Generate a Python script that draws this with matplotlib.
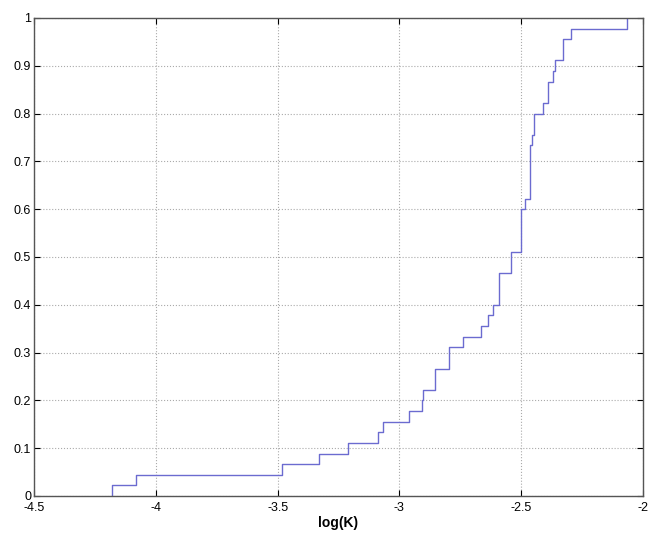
import numpy as np
import matplotlib
matplotlib.use("Agg")
import matplotlib.pyplot as plt

step_x = [-4.18, -4.083, -3.483, -3.33, -3.21, -3.087, -3.066, -2.961, -2.907,
          -2.902, -2.854, -2.796, -2.738, -2.665, -2.635, -2.615, -2.591, -2.543,
          -2.502, -2.483, -2.464, -2.457, -2.446, -2.409, -2.391, -2.371, -2.361,
          -2.330, -2.297, -2.067]
step_count = [1, 1, 1, 1, 1, 1, 1, 1, 1,
              1, 2, 2, 1, 1, 1, 1, 3, 2,
              4, 1, 5, 1, 2, 1, 2, 1, 1,
              2, 1, 1]

xticks = [-4.5, -4, -3.5, -3, -2.5, -2]
yticks = [0, 0.1, 0.2, 0.3, 0.4, 0.5, 0.6, 0.7, 0.8, 0.9, 1]

plt.rcParams["font.family"] = ["Liberation Sans", "DejaVu Sans"]

samples = np.repeat(step_x, step_count)
xs = np.sort(samples)
n = len(xs)
ux, cnt = np.unique(xs, return_counts=True)
cdf = np.cumsum(cnt) / n

fig = plt.figure(figsize=(6.49, 5.40), dpi=100)
ax = fig.add_axes([0.0524, 0.0815, 0.9384, 0.8852])

ax.step(np.concatenate([[ux[0]], ux]), np.concatenate([[0], cdf]),
        where="post", color="#6b6bd0", linewidth=1.0)

ax.set_xlim(-4.5, -2)
ax.set_ylim(0, 1)
ax.set_xticks(xticks)
ax.set_xticklabels([f"{t:g}" for t in xticks])
ax.set_yticks(yticks)
ax.set_yticklabels([f"{t:g}" for t in yticks])
ax.tick_params(direction="in", labelsize=9, length=4, top=True, right=True,
               labeltop=False, labelright=False)
ax.tick_params(axis="x", pad=4)
ax.tick_params(axis="y", pad=2)
ax.grid(True, linestyle=":", color="#aaaaaa", linewidth=0.8)
for s in ax.spines.values():
    s.set_color("#555555")
    s.set_linewidth(1.0)
ax.set_xlabel("log(K)", fontsize=10, fontweight="bold", labelpad=2)

fig.savefig("out.png", dpi=100)
